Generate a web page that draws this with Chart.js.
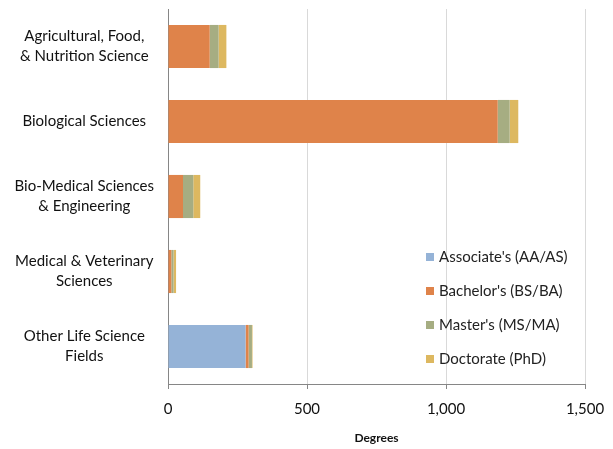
<!DOCTYPE html>
<html>
<head>
<meta charset="utf-8">
<script src="https://cdn.jsdelivr.net/npm/chart.js@4"></script>
<style>
  html, body { margin: 0; padding: 0; background: #fff; }
  #wrap { width: 613px; height: 449px; }
</style>
</head>
<body>
<div id="wrap"><canvas id="degreeChart" width="613" height="449"></canvas></div>
<script>
const categories = [
  ['Agricultural, Food,', '& Nutrition Science'],
  'Biological Sciences',
  ['Bio-Medical Sciences', '& Engineering'],
  ['Medical & Veterinary', 'Sciences'],
  ['Other Life Science', 'Fields'],
];
const associates = [0, 0, 0, 0, 279];
const bachelors = [150, 1186, 54, 12, 11];
const masters = [32, 43, 37, 8, 12];
const doctorates = [28, 31, 25, 9, 2];
const xTicks = [0, 500, 1000, 1500];

const seriesNames = ["Associate's (AA/AS)", "Bachelor's (BS/BA)", "Master's (MS/MA)", 'Doctorate (PhD)'];
const seriesColors = ['#95B3D7', '#DF834A', '#A6AD82', '#DDB860'];

const FONT = 'Lato, "Open Sans", sans-serif';

// legend drawn inside the plot, like the original
const innerLegend = {
  id: 'innerLegend',
  afterDatasetsDraw(chart) {
    const ctx = chart.ctx;
    const area = chart.chartArea;
    ctx.save();
    ctx.font = '15px ' + FONT;
    ctx.textBaseline = 'middle';
    chart.data.datasets.forEach((ds, i) => {
      const y = area.top + 248 + i * 34;
      const x = area.left + 258;
      ctx.fillStyle = ds.backgroundColor;
      ctx.fillRect(x, y - 4, 8, 8);
      ctx.fillStyle = '#222';
      ctx.fillText(ds.label, x + 13, y);
    });
    ctx.restore();
  }
};

const datasets = [associates, bachelors, masters, doctorates].map((vals, i) => ({
  label: seriesNames[i],
  data: vals,
  backgroundColor: seriesColors[i],
  borderWidth: 0,
  categoryPercentage: 1,
  barPercentage: 0.575,
}));

new Chart(document.getElementById('degreeChart'), {
  type: 'bar',
  data: { labels: categories, datasets: datasets },
  plugins: [innerLegend],
  options: {
    indexAxis: 'y',
    responsive: false,
    animation: false,
    layout: { padding: { top: 9, right: 28, left: 0, bottom: 0 } },
    plugins: {
      legend: { display: false },
      tooltip: { enabled: false },
    },
    scales: {
      x: {
        stacked: true,
        min: 0,
        max: 1500,
        afterBuildTicks(scale) {
          scale.ticks = xTicks.map(v => ({ value: v }));
        },
        afterFit(scale) {
          scale.height = 65;
          scale.paddingLeft = 0;
          scale.paddingRight = 0;
        },
        ticks: {
          color: '#111',
          font: { family: FONT, size: 15 },
          padding: 11,
          callback: v => v.toLocaleString('en-US'),
        },
        grid: {
          color: '#D9D9D9',
          tickColor: '#868686',
          tickLength: 5,
        },
        border: { color: '#868686' },
        title: {
          display: true,
          text: 'Degrees',
          color: '#111',
          font: { family: FONT, size: 12, weight: 'bold' },
          padding: { top: 3 },
        },
      },
      y: {
        stacked: true,
        afterFit(scale) {
          scale.width = 168;
          scale.paddingTop = 0;
          scale.paddingBottom = 0;
        },
        ticks: {
          color: '#111',
          font: { family: FONT, size: 15, lineHeight: 1.35 },
          crossAlign: 'center',
          padding: 6,
        },
        grid: { display: false },
        border: { color: '#868686' },
      },
    },
  },
});
</script>
</body>
</html>
